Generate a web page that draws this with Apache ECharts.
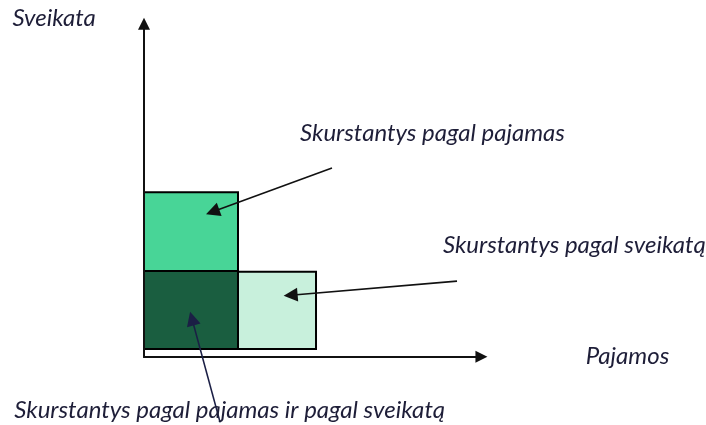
<!DOCTYPE html>
<html>
<head>
<meta charset="utf-8">
<script src="https://cdn.jsdelivr.net/npm/echarts@6/dist/echarts.min.js"></script>
<style>
  html, body { margin: 0; padding: 0; background: #fff; }
  #chart { width: 706px; height: 425px; }
</style>
</head>
<body>
<div id="chart"></div>
<script>
// units: x = pajamos (income), y = sveikata (health), origin at the axes corner
const boxes = [
  // [x0, x1, y0, y1]
  [0, 1, 1, 2.01],
  [0, 1, 0, 1],
  [1, 1.83, 0, 0.99]
]
const boxColors = ['#48d597', '#1a5e40', '#c8f0dc']

const axisLines = [
  [[0, -0.1], [0, 4.17]],
  [[-0.01, -0.1], [3.59, -0.1]]
]

const pointers = [
  [[2.0, 2.32], [0.73, 1.76]],
  [[3.33, 0.87], [1.56, 0.69]],
  [[0.81, -0.94], [0.51, 0.39]]
]
const pointerColors = ['#111111', '#111111', '#1b1f45']

const labels = ['Sveikata', 'Skurstantys pagal pajamas', 'Skurstantys pagal sveikatą', 'Pajamos', 'Skurstantys pagal pajamas ir pagal sveikatą']
const labelPos = [[-1.40, 4.24], [1.66, 2.77], [3.18, 1.33], [4.70, -0.09], [-1.38, -0.78]]

const chart = echarts.init(document.getElementById('chart'))
chart.setOption({
  animation: false,
  grid: { left: 0, right: 0, top: 0, bottom: 0 },
  xAxis: { type: 'value', min: -1.532, max: 5.979, show: false },
  yAxis: { type: 'value', min: -0.974, max: 4.474, show: false },
  series: [
    {
      type: 'custom',
      clip: false,
      data: boxes.map((b, i) => b.concat(i)),
      renderItem (params, api) {
        const p0 = api.coord([api.value(0), api.value(3)])
        const p1 = api.coord([api.value(1), api.value(2)])
        return {
          type: 'rect',
          shape: { x: p0[0], y: p0[1], width: p1[0] - p0[0], height: p1[1] - p0[1] },
          style: { fill: boxColors[api.value(4)], stroke: '#000', lineWidth: 2 }
        }
      }
    },
    {
      type: 'lines',
      coordinateSystem: 'cartesian2d',
      clip: false,
      symbol: ['none', 'triangle'],
      symbolSize: 12,
      lineStyle: { color: '#111', width: 2, opacity: 1 },
      data: axisLines.map(c => ({ coords: c }))
    },
    {
      type: 'lines',
      coordinateSystem: 'cartesian2d',
      clip: false,
      symbol: ['none', 'triangle'],
      symbolSize: 14,
      data: pointers.map((c, i) => ({
        coords: c,
        lineStyle: { color: pointerColors[i], width: 1.6, opacity: 1 }
      }))
    },
    {
      type: 'custom',
      clip: false,
      data: labelPos.map((p, i) => p.concat(i)),
      renderItem (params, api) {
        const p = api.coord([api.value(0), api.value(1)])
        return {
          type: 'text',
          x: p[0],
          y: p[1],
          style: {
            text: labels[api.value(2)],
            font: 'italic 24px Lato',
            fill: '#1e1e38',
            verticalAlign: 'middle',
            align: 'left'
          }
        }
      }
    }
  ]
})
</script>
</body>
</html>
